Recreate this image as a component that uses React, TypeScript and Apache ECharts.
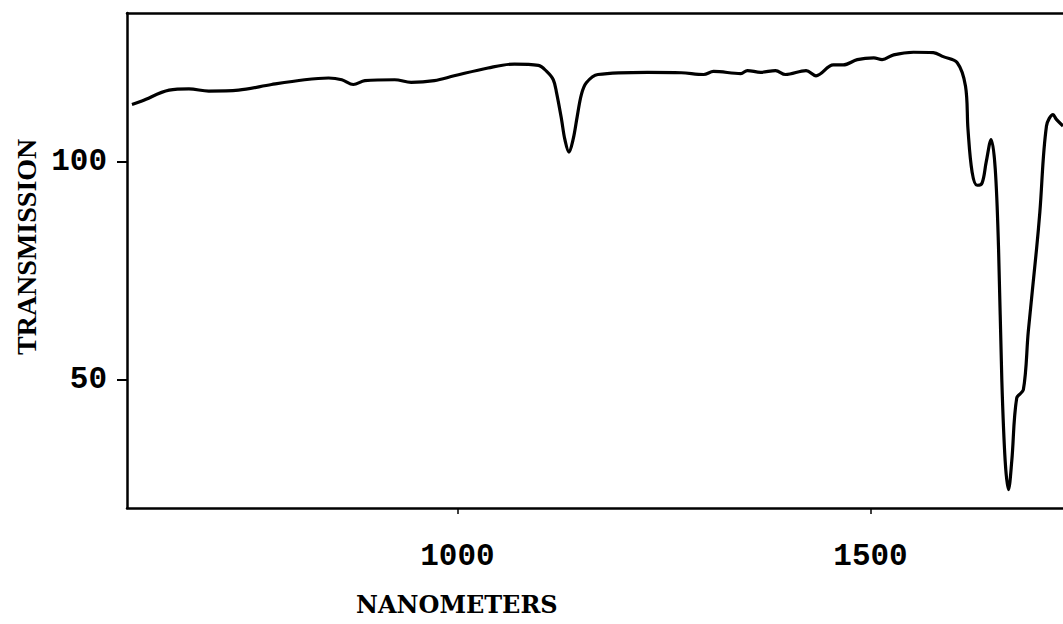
import React, { useEffect, useRef } from "react";
import * as echarts from "echarts";

const wavelengths = [
  606, 618, 651, 675, 699, 735, 775, 815, 844, 860, 874, 888, 924, 944, 972, 996,
  1037, 1069, 1098, 1108, 1116, 1120, 1126, 1130, 1135, 1140, 1145, 1150, 1156,
  1170, 1230, 1271, 1298, 1310, 1343, 1351, 1367, 1385, 1397, 1422, 1434, 1455,
  1467, 1484, 1504, 1514, 1528, 1552, 1576, 1588, 1605, 1615, 1618, 1623, 1629,
  1635, 1640, 1646, 1651, 1655, 1659, 1663, 1667, 1671, 1677, 1685, 1691, 1701,
  1705, 1713, 1721, 1725, 1733,
];
const transmission = [
  113.0, 113.8, 116.3, 116.6, 116.1, 116.3, 117.6, 118.7, 119.1, 118.7, 117.6,
  118.5, 118.7, 118.1, 118.5, 119.6, 121.4, 122.3, 122.0, 120.6, 118.7, 115.7,
  109.6, 105.0, 102.1, 105.0, 110.3, 115.3, 118.0, 119.9, 120.4, 120.3, 119.9,
  120.6, 120.1, 120.8, 120.4, 120.8, 119.9, 120.8, 119.6, 122.1, 122.1, 123.3,
  123.7, 123.3, 124.4, 125.0, 124.9, 124.0, 122.6, 117.2, 107.3, 97.5, 94.5,
  95.0, 99.8, 105.0, 98.2, 79.9, 49.5, 31.3, 24.7, 31.3, 45.7, 47.6, 61.0, 79.9,
  88.4, 108.1, 110.7, 109.6, 108.1,
];
const xTicks = [1000, 1500];
const yTicks = [50, 100];
const xTitle = "NANOMETERS";
const yTitle = "TRANSMISSION";

export default function App() {
  const ref = useRef<HTMLDivElement>(null);
  useEffect(() => {
    if (!ref.current) return;
    const chart = echarts.init(ref.current, undefined, { renderer: "svg" });
    const data = wavelengths.map((w, i) => [w, transmission[i]]);
    const tickFont = {
      fontFamily: "Liberation Mono",
      fontWeight: "bold" as const,
      fontSize: 31,
      color: "#000",
      formatter: (v: number) => String(v),
    };
    chart.setOption({
      animation: false,
      backgroundColor: "#fff",
      grid: { left: 127, right: 0, top: 13, bottom: 116 },
      xAxis: [
        {
          type: "value",
          min: 600,
          max: 1733,
          axisLine: { show: true, lineStyle: { color: "#000", width: 2.5 } },
          axisTick: {
            show: true,
            length: 6,
            customValues: xTicks,
            lineStyle: { color: "#000", width: 1.5 },
          },
          axisLabel: { customValues: xTicks, margin: 33, ...tickFont },
          splitLine: { show: false },
        },
        {
          type: "value",
          position: "top",
          min: 600,
          max: 1733,
          axisLine: { show: true, lineStyle: { color: "#000", width: 2.5 } },
          axisTick: { show: false },
          axisLabel: { show: false },
          splitLine: { show: false },
        },
      ],
      yAxis: {
        type: "value",
        min: 20.5,
        max: 134,
        axisLine: { show: true, lineStyle: { color: "#000", width: 2.5 } },
        axisTick: {
          show: true,
          length: 10,
          customValues: yTicks,
          lineStyle: { color: "#000", width: 2 },
        },
        axisLabel: { customValues: yTicks, margin: 20, ...tickFont },
        splitLine: { show: false },
      },
      graphic: [
        {
          type: "text",
          left: 356,
          top: 592,
          style: {
            text: xTitle,
            fontFamily: "DejaVu Serif",
            fontWeight: "bold",
            fontSize: 24,
            fill: "#000",
          },
        },
        {
          type: "text",
          x: 12,
          y: 355,
          rotation: Math.PI / 2,
          style: {
            text: yTitle,
            fontFamily: "Liberation Serif",
            fontWeight: "bold",
            fontSize: 28,
            fill: "#000",
            textAlign: "left",
            textVerticalAlign: "top",
          },
        },
      ],
      series: [
        {
          type: "line",
          data,
          showSymbol: false,
          smooth: 0.35,
          lineStyle: { color: "#000", width: 3.2 },
          clip: true,
        },
      ],
    });
    return () => chart.dispose();
  }, []);
  return (
    <div
      ref={ref}
      style={{ position: "fixed", left: 0, top: 0, width: 1063, height: 624, background: "#fff" }}
    />
  );
}
